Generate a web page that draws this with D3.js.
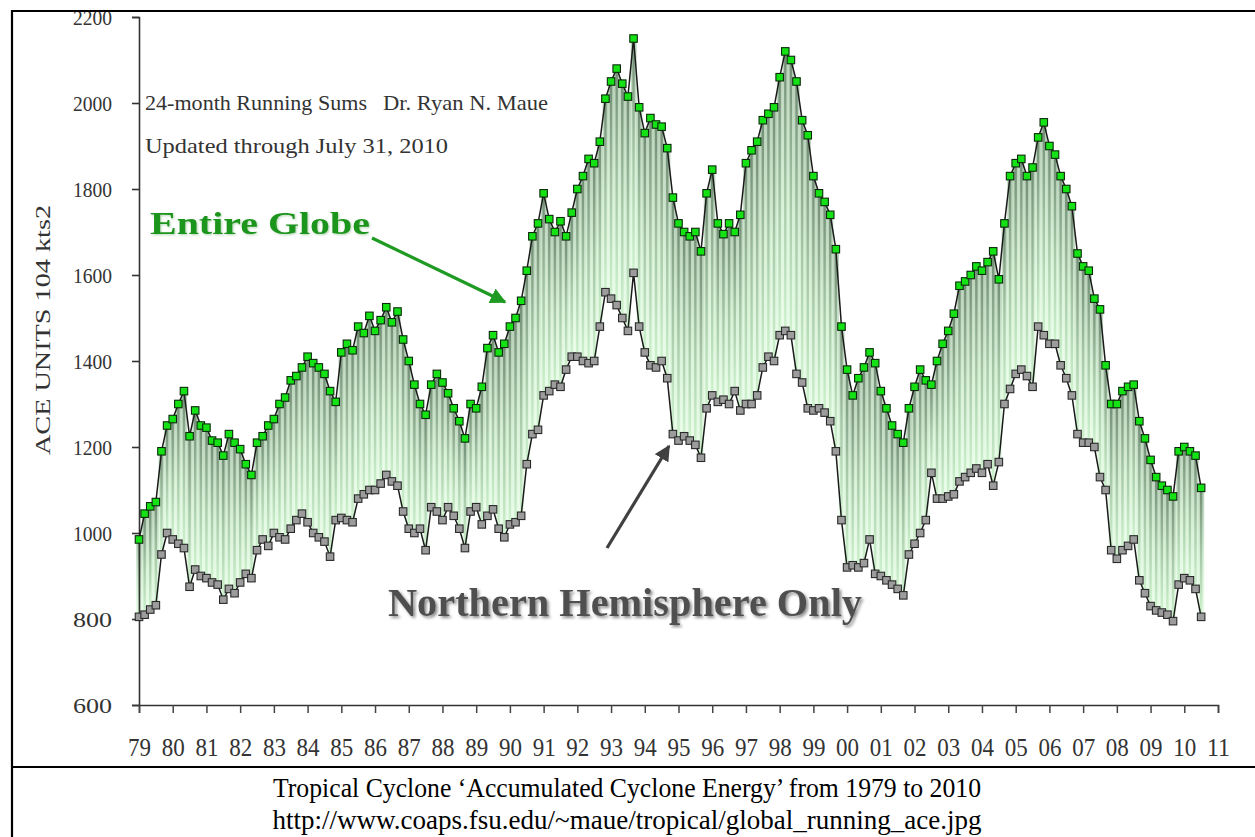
<!DOCTYPE html>
<html><head><meta charset="utf-8">
<script src="https://cdn.jsdelivr.net/npm/d3@7"></script>
<style>body{margin:0;background:#fff;} svg{display:block}</style>
</head><body>
<svg id="c" width="1255" height="837"></svg>
<script>
// ---- data (two-monthly samples, starting Jan 1979) ----
const startYear = 1979;
const perYear = 6;
const yearLabels = ["79","80","81","82","83","84","85","86","87","88","89","90","91","92","93","94","95","96","97","98","99","00","01","02","03","04","05","06","07","08","09","10","11"];
const yTicks = [600,800,1000,1200,1400,1600,1800,2000,2200];
const globe = [
 985,1045,1062,1072,1190,1250,
 1265,1300,1330,1225,1285,1250,
 1245,1215,1210,1180,1230,1210,
 1195,1160,1135,1210,1225,1250,
 1265,1300,1315,1355,1365,1385,
 1410,1395,1385,1370,1330,1305,
 1420,1440,1425,1480,1465,1505,
 1470,1495,1525,1490,1515,1450,
 1400,1345,1300,1275,1345,1370,
 1350,1325,1290,1260,1220,1300,
 1290,1340,1430,1460,1420,1440,
 1480,1500,1540,1610,1690,1720,
 1790,1730,1700,1725,1690,1745,
 1800,1830,1870,1860,1910,2010,
 2050,2080,2045,2015,2150,1990,
 1930,1965,1950,1945,1895,1780,
 1720,1700,1690,1700,1655,1790,
 1845,1720,1695,1720,1700,1740,
 1860,1890,1910,1960,1975,1990,
 2060,2120,2100,2050,1960,1925,
 1830,1790,1770,1740,1660,1480,
 1380,1320,1360,1385,1420,1395,
 1330,1290,1250,1230,1210,1290,
 1340,1380,1355,1345,1400,1440,
 1470,1510,1575,1585,1600,1620,
 1610,1630,1655,1590,1720,1830,
 1860,1870,1830,1850,1920,1955,
 1900,1880,1830,1800,1760,1650,
 1620,1610,1545,1520,1390,1300,
 1300,1330,1340,1345,1260,1220,
 1170,1130,1110,1100,1085,1190,
 1200,1190,1180,1105
];
const northern = [
 805,810,822,832,950,1000,
 985,975,965,875,915,900,
 895,885,880,845,870,860,
 885,905,895,960,985,970,
 1000,990,985,1010,1030,1045,
 1025,1000,990,980,945,1030,
 1035,1030,1025,1080,1090,1100,
 1100,1115,1135,1120,1110,1050,
 1010,1000,1010,960,1060,1050,
 1030,1060,1040,1010,965,1050,
 1060,1020,1040,1055,1010,990,
 1020,1025,1040,1160,1230,1240,
 1320,1330,1345,1340,1380,1410,
 1410,1400,1395,1400,1480,1560,
 1545,1530,1500,1470,1605,1480,
 1420,1390,1385,1400,1360,1230,
 1215,1225,1215,1205,1175,1290,
 1320,1305,1310,1300,1330,1285,
 1300,1300,1320,1385,1410,1400,
 1460,1470,1460,1370,1350,1290,
 1285,1290,1280,1260,1190,1030,
 920,925,920,930,985,905,
 900,890,880,870,855,950,
 975,1000,1030,1140,1080,1080,
 1085,1090,1120,1130,1140,1150,
 1140,1160,1110,1165,1300,1335,
 1370,1380,1365,1340,1480,1460,
 1440,1440,1390,1360,1320,1230,
 1210,1210,1200,1130,1100,960,
 940,960,970,985,890,860,
 830,820,815,810,795,880,
 895,890,870,805
];

const svg = d3.select("#c");
const x = d3.scaleLinear().domain([1979, 2011]).range([139, 1218]);
const y = d3.scaleLinear().domain([600, 2200]).range([705, 17]);
const tOf = i => startYear + i / perYear;
const step = x(startYear + 1 / perYear) - x(startYear);

const defs = svg.append("defs");
const gL = defs.append("linearGradient").attr("id","gLight").attr("x1",0).attr("y1",0).attr("x2",0).attr("y2",1);
gL.append("stop").attr("offset","0%").attr("stop-color","#b7cfb8");
gL.append("stop").attr("offset","55%").attr("stop-color","#d8f2d8");
gL.append("stop").attr("offset","100%").attr("stop-color","#eafdea");
const gD = defs.append("linearGradient").attr("id","gDark").attr("x1",0).attr("y1",0).attr("x2",0).attr("y2",1);
gD.append("stop").attr("offset","0%").attr("stop-color","#718d74");
gD.append("stop").attr("offset","50%").attr("stop-color","#a6c6a7");
gD.append("stop").attr("offset","100%").attr("stop-color","#cff3cf");
const sh = defs.append("filter").attr("id","shadow").attr("x","-5%").attr("y","-20%").attr("width","115%").attr("height","150%");
sh.append("feDropShadow").attr("dx",2).attr("dy",2).attr("stdDeviation",1.6).attr("flood-color","#000").attr("flood-opacity",0.45);
const sh2 = defs.append("filter").attr("id","glow").attr("x","-5%").attr("y","-20%").attr("width","115%").attr("height","150%");
sh2.append("feDropShadow").attr("dx",1).attr("dy",1).attr("stdDeviation",1.2).attr("flood-color","#6a6").attr("flood-opacity",0.5);
defs.append("marker").attr("id","headG").attr("viewBox","0 0 10 10").attr("refX",9).attr("refY",5)
  .attr("markerWidth",5).attr("markerHeight",5).attr("orient","auto").attr("markerUnits","strokeWidth")
  .append("path").attr("d","M0,0 L10,5 L0,10 Z").attr("fill","#1f9a22");
defs.append("marker").attr("id","headK").attr("viewBox","0 0 10 10").attr("refX",9).attr("refY",5)
  .attr("markerWidth",5).attr("markerHeight",5).attr("orient","auto").attr("markerUnits","strokeWidth")
  .append("path").attr("d","M0,0 L10,5 L0,10 Z").attr("fill","#404040");

// ---- drop stripes between the two series ----
const pairs = globe.map((g, i) => ({i, g, n: northern[i]}));
const stripes = svg.append("g");
stripes.selectAll("rect.l").data(pairs).join("rect").attr("class","l")
  .attr("x", d => x(tOf(d.i)) - step / 2).attr("width", step + 0.3)
  .attr("y", d => y(d.g)).attr("height", d => y(d.n) - y(d.g))
  .attr("fill","url(#gLight)");
stripes.selectAll("rect.d").data(pairs).join("rect").attr("class","d")
  .attr("x", d => x(tOf(d.i)) - 1.2).attr("width", 2.4)
  .attr("y", d => y(d.g)).attr("height", d => y(d.n) - y(d.g))
  .attr("fill","url(#gDark)");

// ---- axes ----
const yAxis = d3.axisLeft(y).tickValues(yTicks).tickSize(7).tickPadding(20).tickFormat(d3.format("d"));
const gy = svg.append("g").attr("transform","translate(139,0)").call(yAxis);
gy.select(".domain").attr("stroke","#333").attr("stroke-width",1.6);
gy.selectAll(".tick line").attr("stroke","#333").attr("stroke-width",1.6);
gy.selectAll(".tick text").attr("font-family","'Liberation Serif', serif").attr("font-size",21).attr("fill","#333")
  .attr("dy","0.34em").attr("textLength",39).attr("lengthAdjust","spacingAndGlyphs");

const years = d3.range(1979, 2012);
const xAxis = d3.axisBottom(x).tickValues(years).tickSize(8).tickPadding(25)
  .tickFormat((d, i) => yearLabels[i]);
const gx = svg.append("g").attr("transform","translate(0,705)").call(xAxis);
gx.select(".domain").attr("stroke","#333").attr("stroke-width",1.6);
gx.selectAll(".tick line").attr("stroke","#444").attr("stroke-width",1.5);
gx.selectAll(".tick text").attr("font-family","'Liberation Serif', serif").attr("font-size",26).attr("fill","#333")
  .attr("textLength",23).attr("lengthAdjust","spacingAndGlyphs");

// ---- series lines ----
const line = d3.line().x((d, i) => x(tOf(i))).y(d => y(d));
svg.append("path").datum(northern).attr("d", line).attr("fill","none").attr("stroke","#1a1a1a").attr("stroke-width",1.5);
svg.append("path").datum(globe).attr("d", line).attr("fill","none").attr("stroke","#1a1a1a").attr("stroke-width",1.5);

const ms = 7.5;
svg.append("g").selectAll("rect").data(northern).join("rect")
  .attr("x", (d, i) => x(tOf(i)) - ms / 2).attr("y", d => y(d) - ms / 2)
  .attr("width", ms).attr("height", ms)
  .attr("fill","#9c9c9c").attr("stroke","#2a2a2a").attr("stroke-width",1.1);
svg.append("g").selectAll("rect").data(globe).join("rect")
  .attr("x", (d, i) => x(tOf(i)) - ms / 2).attr("y", d => y(d) - ms / 2)
  .attr("width", ms).attr("height", ms)
  .attr("fill","#14e214").attr("stroke","#0a2a0a").attr("stroke-width",1.1);

// ---- frame (covers the top of the "2200" label like the original) ----
svg.append("rect").attr("x",0).attr("y",0).attr("width",1255).attr("height",11).attr("fill","#fff");
const frame = svg.append("g").attr("stroke","#000").attr("stroke-width",2.2);
frame.append("line").attr("x1",12).attr("y1",11).attr("x2",1255).attr("y2",11);
frame.append("line").attr("x1",12).attr("y1",10).attr("x2",12).attr("y2",837);
frame.append("line").attr("x1",12).attr("y1",767).attr("x2",1255).attr("y2",767);

// ---- text annotations ----
const serif = "'Liberation Serif', 'Times New Roman', serif";
svg.append("text").attr("transform","translate(50,330) rotate(-90)").attr("text-anchor","middle")
  .attr("font-family",serif).attr("font-size",20).attr("fill","#333")
  .attr("textLength",250).attr("lengthAdjust","spacingAndGlyphs").text("ACE UNITS 104 kts2");

svg.append("text").attr("x",145).attr("y",110).attr("font-family",serif).attr("font-size",21).attr("fill","#333")
  .attr("textLength",222).attr("lengthAdjust","spacingAndGlyphs").text("24-month Running Sums");
svg.append("text").attr("x",383).attr("y",110).attr("font-family",serif).attr("font-size",21).attr("fill","#333")
  .attr("textLength",165).attr("lengthAdjust","spacingAndGlyphs").text("Dr. Ryan N. Maue");
svg.append("text").attr("x",145).attr("y",153).attr("font-family",serif).attr("font-size",21).attr("fill","#333")
  .attr("textLength",303).attr("lengthAdjust","spacingAndGlyphs").text("Updated through July 31, 2010");

svg.append("text").attr("x",150).attr("y",234).attr("font-family",serif).attr("font-weight","bold").attr("font-size",32)
  .attr("fill","#1f951f").attr("filter","url(#glow)")
  .attr("textLength",220).attr("lengthAdjust","spacingAndGlyphs").text("Entire Globe");
svg.append("text").attr("x",388).attr("y",616).attr("font-family",serif).attr("font-weight","bold").attr("font-size",39)
  .attr("fill","#505050").attr("filter","url(#shadow)")
  .attr("textLength",474).attr("lengthAdjust","spacingAndGlyphs").text("Northern Hemisphere Only");

// arrows
svg.append("line").attr("x1",372).attr("y1",238).attr("x2",505).attr("y2",302)
  .attr("stroke","#1f9a22").attr("stroke-width",3.2).attr("marker-end","url(#headG)");
svg.append("line").attr("x1",607).attr("y1",548).attr("x2",669).attr("y2",446)
  .attr("stroke","#404040").attr("stroke-width",3.2).attr("marker-end","url(#headK)");

// caption
svg.append("text").attr("x",627).attr("y",797).attr("text-anchor","middle").attr("font-family",serif).attr("font-size",28).attr("fill","#000")
  .attr("textLength",708).attr("lengthAdjust","spacingAndGlyphs")
  .text("Tropical Cyclone \u2018Accumulated Cyclone Energy\u2019 from 1979 to 2010");
svg.append("text").attr("x",627).attr("y",829).attr("text-anchor","middle").attr("font-family",serif).attr("font-size",28).attr("fill","#000")
  .attr("textLength",709).attr("lengthAdjust","spacingAndGlyphs")
  .text("http://www.coaps.fsu.edu/~maue/tropical/global_running_ace.jpg");
</script>
</body></html>
